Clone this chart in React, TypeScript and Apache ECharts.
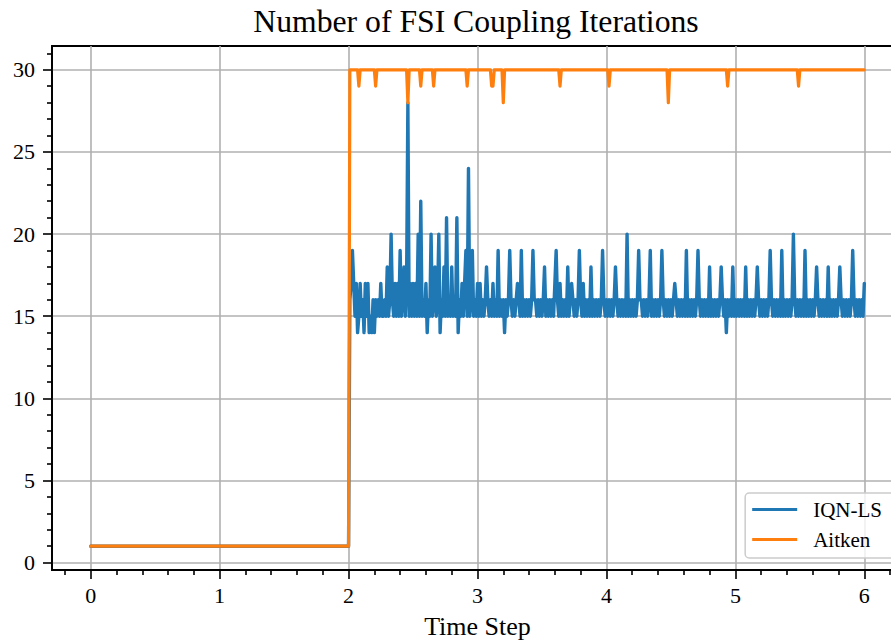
import React, { useEffect, useRef } from "react";
import * as echarts from "echarts";

// Axis ticks and labels
const xTickValues = [0, 1, 2, 3, 4, 5, 6];
const yTickValues = [0, 5, 10, 15, 20, 25, 30];
const xRange = [-0.3, 6.3];
const yRange = [-0.45, 31.45];

// IQN-LS: one coupling iteration per step until t = 2, then the FSI phase
const iqnStaticTime = [0, 2.0];
const iqnStaticIters = [1, 1];
const iqnFsiStart = 2.01;
const iqnFsiStep = 0.01;
// iterations per time step for t = 2.01 ... 6.00 (ten steps per row)
const iqnFsiIters = [
  16, 17, 19, 17, 15, 17, 14, 15, 17, 15,
  16, 14, 17, 15, 17, 14, 15, 14, 16, 14,
  16, 15, 16, 15, 17, 15, 15, 16, 15, 18,
  15, 16, 20, 16, 15, 17, 15, 17, 15, 19,
  15, 16, 18, 15, 17, 28, 15, 17, 15, 17,
  15, 17, 15, 20, 15, 22, 15, 16, 15, 17,
  14, 16, 15, 20, 15, 16, 18, 15, 16, 20,
  14, 16, 15, 18, 15, 21, 15, 16, 15, 18,
  15, 16, 15, 21, 14, 16, 15, 17, 15, 17,
  19, 15, 24, 15, 16, 19, 15, 16, 15, 17,
  15, 17, 15, 16, 15, 16, 18, 16, 15, 16,
  15, 17, 15, 16, 15, 19, 15, 16, 15, 16,
  14, 16, 15, 16, 19, 16, 15, 16, 15, 16,
  17, 16, 15, 19, 15, 16, 15, 16, 15, 16,
  15, 16, 19, 16, 16, 15, 16, 15, 16, 15,
  16, 18, 15, 16, 15, 16, 15, 16, 15, 17,
  19, 16, 15, 17, 15, 16, 15, 16, 15, 18,
  15, 16, 17, 16, 15, 16, 15, 16, 19, 16,
  15, 17, 15, 16, 15, 16, 15, 18, 15, 16,
  15, 16, 15, 16, 15, 16, 19, 16, 15, 16,
  15, 16, 15, 16, 15, 16, 18, 16, 15, 16,
  15, 16, 15, 16, 15, 20, 15, 16, 15, 16,
  15, 16, 15, 16, 19, 16, 16, 15, 16, 15,
  16, 15, 16, 19, 15, 16, 15, 16, 15, 16,
  15, 16, 19, 16, 15, 16, 15, 16, 15, 16,
  15, 16, 17, 16, 15, 16, 15, 16, 15, 16,
  15, 19, 15, 16, 15, 16, 15, 16, 15, 16,
  19, 16, 15, 16, 15, 16, 15, 16, 15, 18,
  15, 16, 15, 16, 15, 16, 15, 16, 18, 16,
  15, 16, 14, 16, 15, 16, 15, 18, 15, 16,
  15, 16, 15, 16, 15, 16, 15, 18, 15, 16,
  15, 16, 15, 16, 15, 16, 18, 16, 15, 16,
  15, 16, 15, 16, 15, 16, 19, 16, 15, 16,
  15, 16, 15, 16, 15, 19, 15, 16, 15, 16,
  15, 16, 15, 16, 20, 16, 15, 16, 15, 16,
  15, 16, 15, 19, 15, 16, 15, 16, 15, 16,
  15, 16, 18, 16, 15, 16, 15, 16, 15, 16,
  15, 18, 15, 16, 15, 16, 15, 16, 15, 16,
  18, 16, 15, 16, 15, 16, 15, 16, 15, 16,
  19, 16, 15, 16, 15, 16, 15, 16, 15, 17,
];

// Aitken: the steps where the iteration count changes
const aitkenTime = [
  0, 2.0, 2.01, 2.07, 2.08, 2.09, 2.2, 2.21, 2.22, 2.45, 2.46, 2.47,
  2.55, 2.56, 2.57, 2.65, 2.66, 2.67, 2.91, 2.92, 2.93, 3.1, 3.11, 3.12,
  3.13, 3.19, 3.2, 3.21, 3.63, 3.64, 3.65, 4.01, 4.02, 4.03, 4.47, 4.48,
  4.49, 4.93, 4.94, 4.95, 5.48, 5.49, 5.5, 6.0,
];
const aitkenIters = [
  1, 1, 30, 30, 29, 30, 30, 29, 30, 30, 28, 30,
  30, 29, 30, 30, 29, 30, 30, 29, 30, 30, 29, 29,
  30, 30, 28, 30, 30, 29, 30, 30, 29, 30, 30, 28,
  30, 30, 29, 30, 30, 29, 30, 30,
];

const FONT = '"Liberation Serif", "Times New Roman", "DejaVu Serif", serif';
const BLUE = "#1f77b4";
const ORANGE = "#ff7f0e";
const GRID_GREY = "#b0b0b0";

// The figure is cut at 891 px; the axes box itself runs a little past that edge.
const VIEW_W = 891;
const VIEW_H = 644;
const CANVAS_W = 905;

const round2 = (v: number) => Math.round(v * 100) / 100;

function minorTicks(lo: number, hi: number, step: number, major: number) {
  const out: number[] = [];
  const n0 = Math.ceil(lo / step);
  const n1 = Math.floor(hi / step);
  for (let n = n0; n <= n1; n++) {
    const v = round2(n * step);
    if (Math.abs(v / major - Math.round(v / major)) > 1e-6) out.push(v);
  }
  return out;
}

function buildOption() {
  const iqnData: [number, number][] = iqnStaticTime.map((t, k) => [t, iqnStaticIters[k]]);
  iqnFsiIters.forEach((v, k) => iqnData.push([round2(iqnFsiStart + k * iqnFsiStep), v]));
  const aitkenData: [number, number][] = aitkenTime.map((t, k) => [t, aitkenIters[k]]);

  const tickLine = { color: "#000", width: 1.6 };
  const axisFont = { fontSize: 22, fontFamily: FONT, color: "#000" };

  return {
    animation: false,
    backgroundColor: "#fff",
    grid: {
      left: 52,
      top: 46,
      right: 2,
      bottom: 74,
      show: true,
      borderColor: "#000",
      borderWidth: 1.8,
      backgroundColor: "transparent",
    },
    graphic: [
      {
        type: "text",
        x: 476,
        y: 21,
        style: {
          text: "Number of FSI Coupling Iterations",
          fill: "#000",
          font: `31.7px ${FONT}`,
          textAlign: "center",
          textVerticalAlign: "middle",
        },
      },
    ],
    xAxis: [
      {
        type: "value",
        min: xRange[0],
        max: xRange[1],
        position: "bottom",
        axisLine: { show: true, onZero: false, lineStyle: { color: "#000", width: 1.8 } },
        axisTick: { show: true, customValues: xTickValues, length: 9, lineStyle: tickLine },
        axisLabel: { customValues: xTickValues, margin: 14, ...axisFont },
        splitLine: { show: true, lineStyle: { color: GRID_GREY, width: 1.6 } },
        name: "Time Step",
        nameLocation: "middle",
        nameGap: 43,
        nameTextStyle: { fontSize: 26, fontFamily: FONT, color: "#000" },
      },
      {
        type: "value",
        min: xRange[0],
        max: xRange[1],
        position: "bottom",
        axisLine: { show: false, onZero: false },
        axisTick: { show: true, customValues: minorTicks(xRange[0], xRange[1], 0.2, 1), length: 5, lineStyle: tickLine },
        axisLabel: { show: false },
        splitLine: { show: false },
      },
    ],
    yAxis: [
      {
        type: "value",
        min: yRange[0],
        max: yRange[1],
        position: "left",
        axisLine: { show: true, onZero: false, lineStyle: { color: "#000", width: 1.8 } },
        axisTick: { show: true, customValues: yTickValues, length: 9, lineStyle: tickLine },
        axisLabel: { customValues: yTickValues, margin: 17, ...axisFont },
        splitLine: { show: true, lineStyle: { color: GRID_GREY, width: 1.6 } },
      },
      {
        type: "value",
        min: yRange[0],
        max: yRange[1],
        position: "left",
        axisLine: { show: false, onZero: false },
        axisTick: { show: true, customValues: minorTicks(yRange[0], yRange[1], 1, 5), length: 5, lineStyle: tickLine },
        axisLabel: { show: false },
        splitLine: { show: false },
      },
    ],
    legend: {
      orient: "vertical",
      right: 9,
      bottom: 86,
      icon: "rect",
      itemWidth: 45,
      itemHeight: 3,
      itemGap: 9,
      padding: [6, 14, 8, 7],
      backgroundColor: "rgba(255,255,255,0.8)",
      borderColor: "#cccccc",
      borderWidth: 1.5,
      borderRadius: 4,
      textStyle: { fontSize: 21, fontFamily: FONT, color: "#000", padding: [0, 0, 0, 11] },
      data: ["IQN-LS", "Aitken"],
    },
    series: [
      {
        name: "IQN-LS",
        type: "line",
        xAxisIndex: 0,
        yAxisIndex: 0,
        data: iqnData,
        showSymbol: false,
        symbol: "none",
        color: BLUE,
        lineStyle: { color: BLUE, width: 3.4, cap: "round", join: "round" },
        z: 2,
      },
      {
        name: "Aitken",
        type: "line",
        xAxisIndex: 0,
        yAxisIndex: 0,
        data: aitkenData,
        showSymbol: false,
        symbol: "none",
        color: ORANGE,
        lineStyle: { color: ORANGE, width: 3.2, cap: "round", join: "round" },
        z: 3,
      },
    ],
  };
}

export default function App() {
  const ref = useRef<HTMLDivElement>(null);
  useEffect(() => {
    if (!ref.current) return;
    const chart = echarts.init(ref.current, null, { renderer: "svg" });
    chart.setOption(buildOption() as any);
    return () => chart.dispose();
  }, []);
  return (
    <div
      style={{ position: "fixed", left: 0, top: 0, width: VIEW_W, height: VIEW_H, overflow: "hidden", background: "#fff" }}
    >
      <div ref={ref} style={{ width: CANVAS_W, height: VIEW_H }} />
    </div>
  );
}
